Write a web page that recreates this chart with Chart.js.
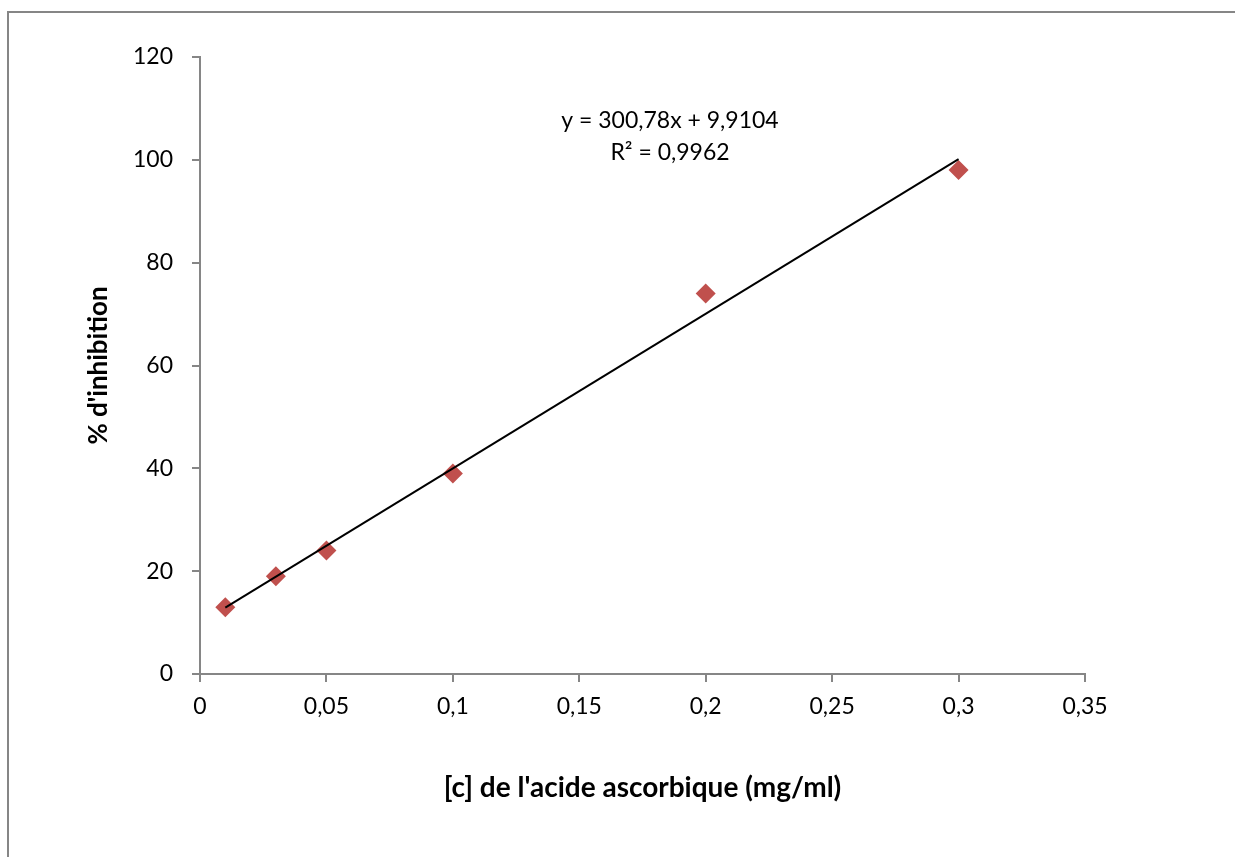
<!DOCTYPE html>
<html>
<head>
<meta charset="utf-8">
<script src="https://cdn.jsdelivr.net/npm/chart.js@4/dist/chart.umd.min.js"></script>
<style>
  html, body { margin: 0; padding: 0; background: #fff; }
  #wrap { width: 1235px; height: 857px; position: relative; }
</style>
</head>
<body>
<div id="wrap"><canvas id="graphe"></canvas></div>
<script>
// concentrations (mg/ml) et % d'inhibition mesurés
const concentrations = [0.01, 0.03, 0.05, 0.1, 0.2, 0.3];
const inhibition = [13, 19, 24, 39, 74, 98];

// droite de régression affichée sur le graphique
const pente = 300.78;
const ordonnee = 9.9104;
const r2 = 0.9962;

const xTicks = [0, 0.05, 0.1, 0.15, 0.2, 0.25, 0.3, 0.35];
const yTicks = [0, 20, 40, 60, 80, 100, 120];

const police = "Lato, 'Noto Sans', sans-serif";
const gris = "#868686";

function virgule(v) {
  return String(v).replace(".", ",");
}

const xMin = concentrations[0];
const xMax = concentrations[concentrations.length - 1];
const droite = [
  { x: xMin, y: pente * xMin + ordonnee },
  { x: xMax, y: pente * xMax + ordonnee }
];

// cadre gris autour du graphique + équation de la droite
const decor = {
  id: "decor",
  beforeDraw(chart) {
    const ctx = chart.ctx;
    ctx.save();
    ctx.strokeStyle = gris;
    ctx.lineWidth = 2;
    ctx.beginPath();
    ctx.moveTo(8, 870);
    ctx.lineTo(8, 12);
    ctx.lineTo(1240, 12);
    ctx.stroke();
    ctx.restore();
  },
  afterDraw(chart) {
    const ctx = chart.ctx;
    ctx.save();
    ctx.fillStyle = "#000";
    ctx.font = "23px " + police;
    ctx.textAlign = "center";
    ctx.textBaseline = "middle";
    ctx.fillText("y = " + virgule(pente) + "x + " + virgule(ordonnee), 670, 121);
    ctx.fillText("R² = " + virgule(r2), 670, 153);
    ctx.restore();
  }
};

new Chart(document.getElementById("graphe"), {
  type: "scatter",
  data: {
    datasets: [
      {
        label: "% d'inhibition",
        data: concentrations.map((c, i) => ({ x: c, y: inhibition[i] })),
        pointStyle: "rectRot",
        pointRadius: 10,
        pointHoverRadius: 10,
        backgroundColor: "#C0504D",
        borderColor: "#C0504D",
        borderWidth: 0,
        order: 2
      },
      {
        label: "Linéaire",
        data: droite,
        showLine: true,
        borderColor: "#000",
        borderWidth: 2,
        pointRadius: 0,
        fill: false,
        order: 1
      }
    ]
  },
  plugins: [decor],
  options: {
    responsive: true,
    maintainAspectRatio: false,
    animation: false,
    layout: { padding: { top: 57, right: 150, left: 0, bottom: 0 } },
    plugins: {
      legend: { display: false },
      tooltip: { enabled: false }
    },
    scales: {
      x: {
        type: "linear",
        min: 0,
        max: 0.35,
        afterFit(s) { s.height = 183; },
        afterBuildTicks(s) { s.ticks = xTicks.map(v => ({ value: v })); },
        grid: { drawOnChartArea: false, color: gris, lineWidth: 2, tickLength: 8 },
        border: { color: gris, width: 2 },
        ticks: {
          color: "#000",
          font: { family: police, size: 23 },
          padding: 11,
          maxRotation: 0,
          callback: v => virgule(v)
        },
        title: {
          display: true,
          text: "[c] de l'acide ascorbique (mg/ml)",
          color: "#000",
          font: { family: police, size: 28, weight: "bold" },
          padding: { top: 0, bottom: 52 }
        }
      },
      y: {
        min: 0,
        max: 120,
        afterFit(s) { s.width = 200; },
        afterBuildTicks(s) { s.ticks = yTicks.map(v => ({ value: v })); },
        grid: { drawOnChartArea: false, color: gris, lineWidth: 2, tickLength: 8 },
        border: { color: gris, width: 2 },
        ticks: {
          color: "#000",
          font: { family: police, size: 23 },
          padding: 19
        },
        title: {
          display: true,
          text: "% d'inhibition",
          color: "#000",
          font: { family: police, size: 26, weight: "bold" },
          padding: { top: 83, bottom: 0 }
        }
      }
    }
  }
});
</script>
</body>
</html>
